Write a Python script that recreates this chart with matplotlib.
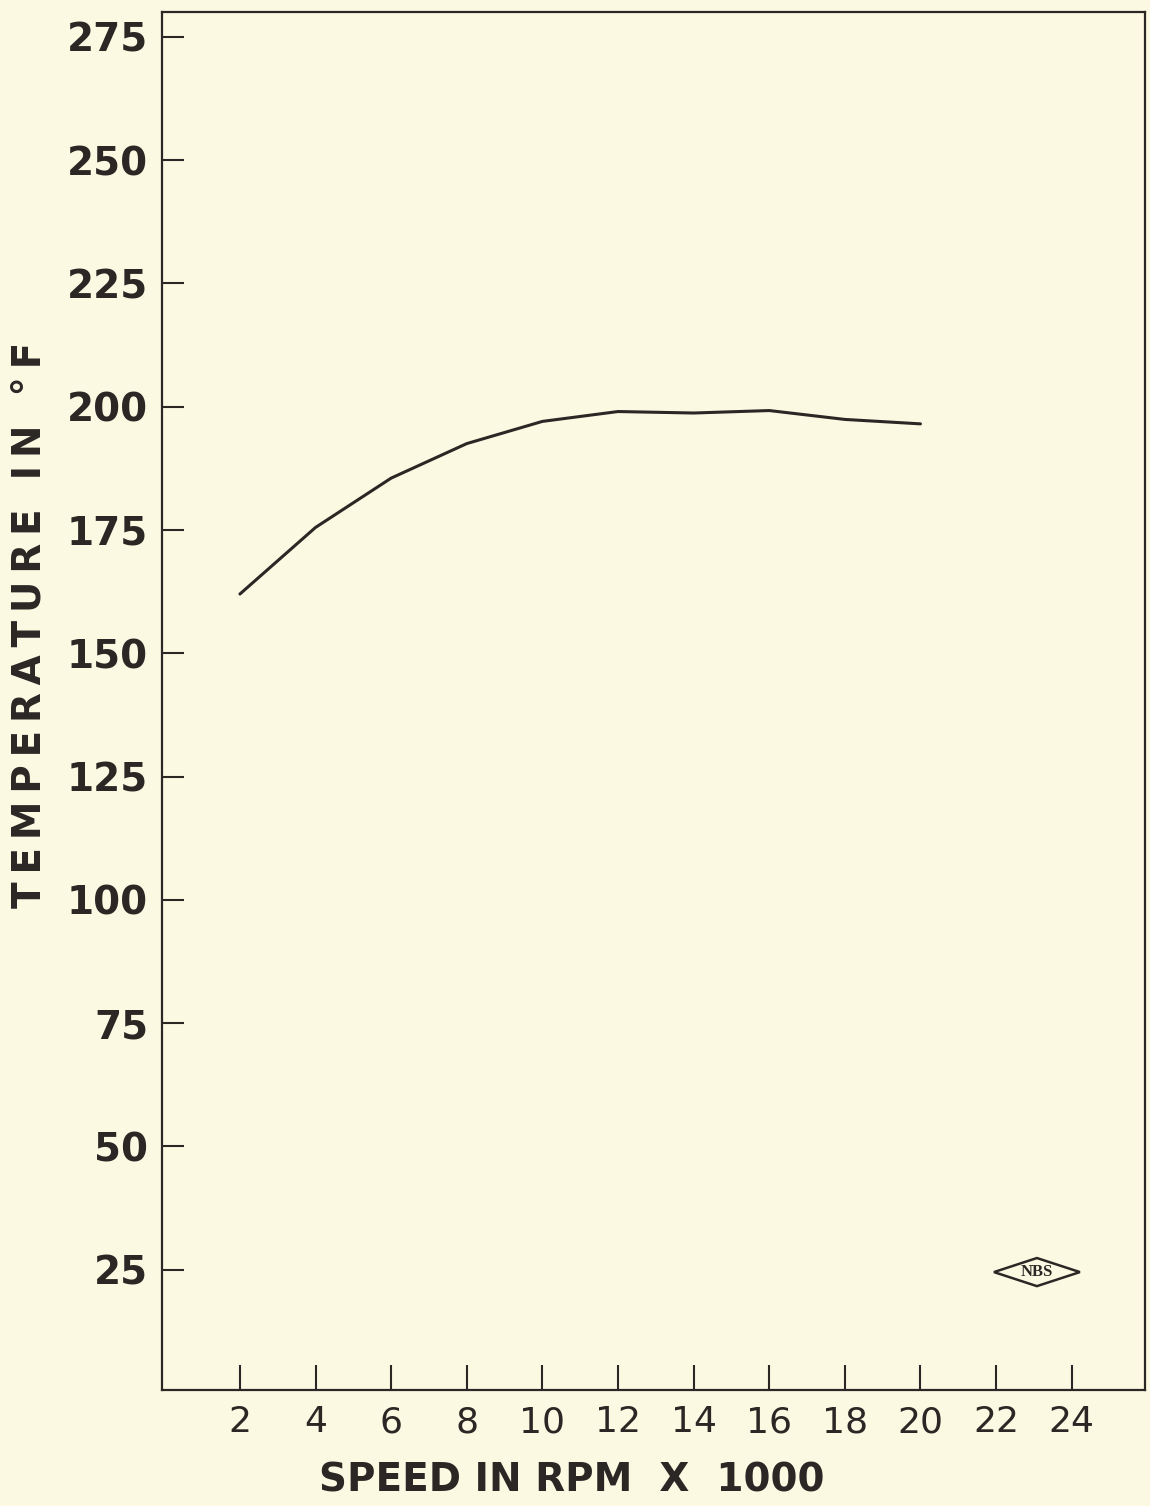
"""Bearing temperature against shaft speed."""
import matplotlib
matplotlib.use("Agg")
import matplotlib.pyplot as plt
from matplotlib.patches import Polygon

# Measured temperature at each speed step
speed_krpm = [2, 4, 6, 8, 10, 12, 14, 16, 18, 20]
temperature_f = [162, 175.5, 185.5, 192.5, 197, 199, 198.7, 199.2, 197.4, 196.5]

x_ticks = [2, 4, 6, 8, 10, 12, 14, 16, 18, 20, 22, 24]
y_ticks = [25, 50, 75, 100, 125, 150, 175, 200, 225, 250, 275]

paper = '#fcf9e3'
ink = '#2b2725'


def spaced(s, gap='\u2009'):
    """Open up the lettering a little, like the stencilled labels."""
    return gap.join(s)


def plot_speed_temperature(output_path='out.png'):
    fig = plt.figure(figsize=(11.5, 15.06), dpi=100, facecolor=paper)
    ax = fig.add_axes([0.1409, 0.077, 0.8548, 0.915])
    ax.set_facecolor(paper)

    ax.plot(speed_krpm, temperature_f, color=ink, linewidth=2.2,
            solid_capstyle='round', solid_joinstyle='round')

    ax.set_xlim(-0.06, 25.94)
    ax.set_ylim(0.6, 280)

    ax.set_xticks(x_ticks)
    ax.set_yticks(y_ticks)
    ax.set_xticklabels([str(t) for t in x_ticks], fontsize=26,
                       fontfamily='DejaVu Sans')
    ax.set_yticklabels([str(t) for t in y_ticks], fontsize=28,
                       fontweight='bold', fontfamily='DejaVu Sans')
    ax.tick_params(axis='x', direction='in', length=18, width=1.5,
                   color=ink, labelcolor=ink, pad=11)
    ax.tick_params(axis='y', direction='in', length=16, width=1.5,
                   color=ink, labelcolor=ink, pad=10)

    for side in ax.spines.values():
        side.set_linewidth(1.6)
        side.set_color(ink)

    # axis titles sit at fixed spots on the sheet
    fig.text(572 / 1150, 1 - 1481 / 1506, 'SPEED IN RPM  X  1000',
             fontsize=28, fontweight='bold', color=ink,
             ha='center', va='center')
    fig.text(30 / 1150, 1 - 625 / 1506, spaced('TEMPERATURE IN °F'),
             fontsize=28, fontweight='bold', color=ink, rotation=90,
             ha='center', va='center')

    # NBS stamp in the lower right corner
    cx, cy = 0.890, 0.0856
    w, h = 0.0437, 0.0102
    diamond = Polygon([(cx - w, cy), (cx, cy + h), (cx + w, cy), (cx, cy - h)],
                      closed=True, fill=False, edgecolor=ink, linewidth=1.8,
                      transform=ax.transAxes)
    ax.add_patch(diamond)
    ax.text(cx, cy, 'NBS', transform=ax.transAxes, ha='center', va='center',
            fontsize=12, fontweight='bold', fontfamily='Liberation Serif',
            color=ink)

    fig.savefig(output_path, dpi=100, facecolor=paper)
    return fig


if __name__ == '__main__':
    plot_speed_temperature()
